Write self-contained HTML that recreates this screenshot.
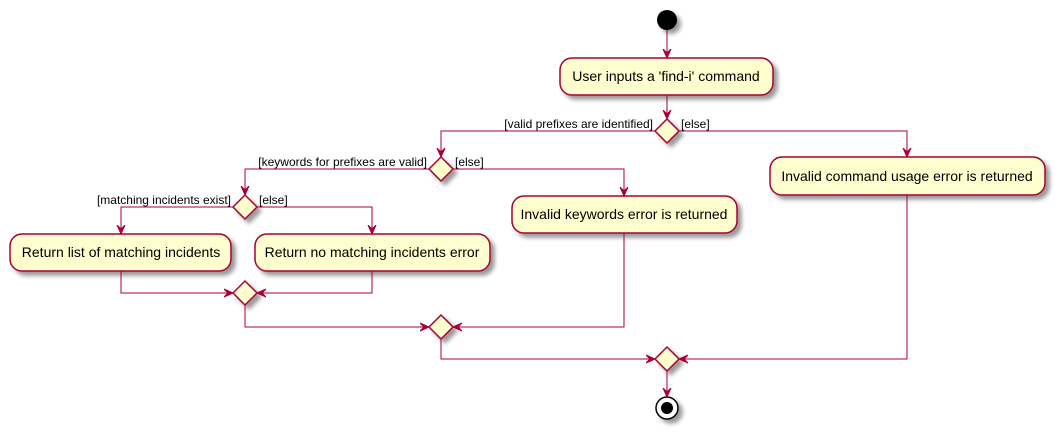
<!DOCTYPE html>
<html><head><meta charset="utf-8"><style>
html,body{margin:0;padding:0;background:#fff;width:1055px;height:432px;overflow:hidden}
text{font-family:"Liberation Sans",sans-serif;font-size:14px;fill:#000}
.a{fill:#FEFECE;stroke:#A80036;stroke-width:1.5}
.l{stroke:#A80036;stroke-width:1;fill:none}
.h{fill:#A80036;stroke:#A80036}
</style></head><body>
<svg width="1055" height="432" xmlns="http://www.w3.org/2000/svg">
<defs><filter id="s" x="-20%" y="-20%" width="150%" height="150%"><feGaussianBlur in="SourceAlpha" stdDeviation="2"/><feOffset dx="4" dy="4"/><feComponentTransfer><feFuncA type="linear" slope="0.4"/></feComponentTransfer><feMerge><feMergeNode/><feMergeNode in="SourceGraphic"/></feMerge></filter>
<marker id="ar" markerWidth="10" markerHeight="10" refX="9" refY="5" orient="auto" markerUnits="userSpaceOnUse"><path d="M0,1 L9,5 L0,9 L4,5 Z" class="h"/></marker></defs>
<g filter="url(#s)">
<circle cx="667" cy="20" r="10" fill="#000"/>
<rect class="a" x="560" y="58" width="213" height="37" rx="12"/>
<path class="a" d="M667,119 L679,131 L667,143 L655,131 Z"/>
<rect class="a" x="770" y="157" width="275" height="38" rx="12"/>
<path class="a" d="M441,157 L453,169 L441,181 L429,169 Z"/>
<rect class="a" x="512" y="196" width="225" height="37" rx="12"/>
<path class="a" d="M245,195 L257,207 L245,219 L233,207 Z"/>
<rect class="a" x="10" y="234" width="221" height="37" rx="12"/>
<rect class="a" x="255" y="234" width="235" height="37" rx="12"/>
<path class="a" d="M245,281 L257,293 L245,305 L233,293 Z"/>
<path class="a" d="M441,315 L453,327 L441,339 L429,327 Z"/>
<path class="a" d="M667,347 L679,359 L667,371 L655,359 Z"/>
<circle cx="667" cy="408" r="11" fill="#fff" stroke="#000" stroke-width="1.5"/>
<circle cx="667" cy="408" r="6" fill="#000"/>
</g>
<g class="l">
<path d="M667,30 V58" marker-end="url(#ar)"/>
<path d="M667,95 V119" marker-end="url(#ar)"/>
<path d="M655,131 H441 V157" marker-end="url(#ar)"/>
<path d="M679,131 H907 V157" marker-end="url(#ar)"/>
<path d="M429,169 H245 V195" marker-end="url(#ar)"/>
<path d="M453,169 H624 V196" marker-end="url(#ar)"/>
<path d="M233,207 H121 V234" marker-end="url(#ar)"/>
<path d="M257,207 H372 V234" marker-end="url(#ar)"/>
<path d="M121,271 V293 H233" marker-end="url(#ar)"/>
<path d="M372,271 V293 H257" marker-end="url(#ar)"/>
<path d="M245,305 V327 H429" marker-end="url(#ar)"/>
<path d="M624,233 V327 H453" marker-end="url(#ar)"/>
<path d="M441,339 V359 H655" marker-end="url(#ar)"/>
<path d="M907,195 V359 H679" marker-end="url(#ar)"/>
<path d="M667,371 V397" marker-end="url(#ar)"/>
</g>
<text x="666" y="81" text-anchor="middle">User inputs a 'find-i' command</text>
<text x="907" y="181" text-anchor="middle">Invalid command usage error is returned</text>
<text x="624" y="219" text-anchor="middle">Invalid keywords error is returned</text>
<text x="121" y="257" text-anchor="middle">Return list of matching incidents</text>
<text x="372" y="257" text-anchor="middle">Return no matching incidents error</text>
<text x="653" y="128" text-anchor="end" style="font-size:12px">[valid prefixes are identified]</text>
<text x="681" y="128" style="font-size:12px">[else]</text>
<text x="427" y="166" text-anchor="end" style="font-size:12px">[keywords for prefixes are valid]</text>
<text x="455" y="166" style="font-size:12px">[else]</text>
<text x="231" y="204" text-anchor="end" style="font-size:12px">[matching incidents exist]</text>
<text x="259" y="204" style="font-size:12px">[else]</text>
</svg>
</body></html>
